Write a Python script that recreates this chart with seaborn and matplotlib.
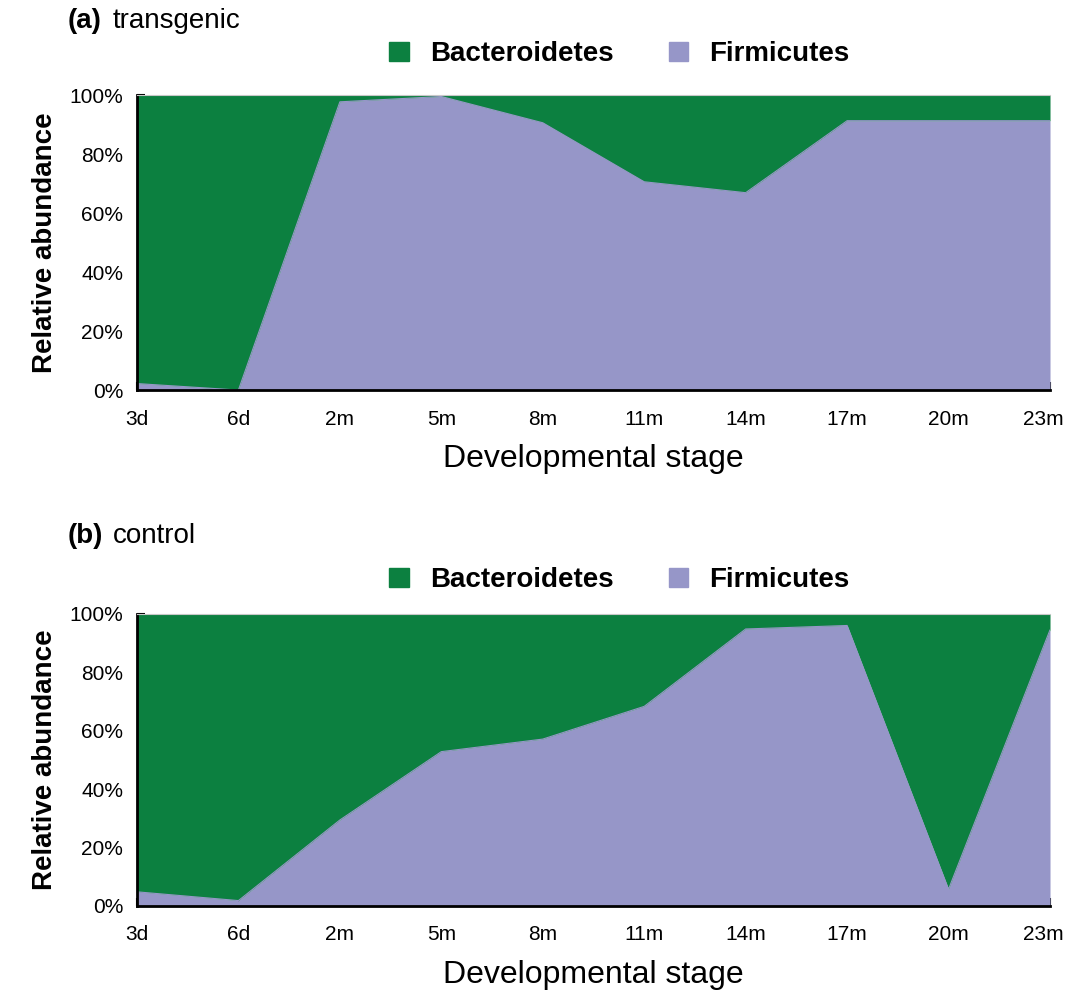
import matplotlib
matplotlib.use('Agg')
import matplotlib.pyplot as plt
import matplotlib.patches as mpatches
import matplotlib.transforms as mtransforms
import seaborn as sns
import pandas as pd

#data
stages = ['3d', '6d', '2m', '5m', '8m', '11m', '14m', '17m', '20m', '23m']
firm_transgenic = [2.2, 0.0, 97.7, 99.5, 90.6, 70.6, 66.9, 91.3, 91.3, 91.3]
firm_control = [4.8, 1.8, 29.4, 52.8, 57.1, 68.3, 94.8, 96.0, 5.7, 94.5]
panel_titles = ['transgenic', 'control']
panel_tags = ['(a)', '(b)']

green = '#0c8040'
lavender = '#9696c8'

sns.set_style('ticks')
plt.rcParams['font.family'] = ['Liberation Sans', 'DejaVu Sans']
plt.rcParams['text.color'] = 'black'
plt.rcParams['axes.labelcolor'] = 'black'

fig = plt.figure(figsize=(10.66, 9.9), dpi=100)
ax_top = fig.add_axes([0.1285, 0.606, 0.8565, 0.298])
ax_bot = fig.add_axes([0.1285, 0.085, 0.8565, 0.295])

for ax, firm, tag, title, ytitle, yleg in [
        (ax_top, firm_transgenic, panel_tags[0], panel_titles[0], 0.979, 0.945),
        (ax_bot, firm_control, panel_tags[1], panel_titles[1], 0.459, 0.414)]:
    df = pd.DataFrame({'stage': range(len(stages)), 'Firmicutes': firm})
    df['Bacteroidetes'] = 100 - df['Firmicutes']
    ax.stackplot(df['stage'], df['Firmicutes'], df['Bacteroidetes'],
                 colors=[lavender, green], linewidth=0)
    sns.lineplot(x='stage', y='Firmicutes', data=df, ax=ax, color=lavender, lw=0.8)
    ax.set_xlim(0, len(stages) - 1)
    ax.set_ylim(0, 100)
    ax.set_xticks(range(len(stages)))
    ax.set_xticklabels(stages)
    ax.set_yticks([0, 20, 40, 60, 80, 100])
    ax.set_yticklabels(['0%', '20%', '40%', '60%', '80%', '100%'])
    ax.tick_params(direction='in', length=6, width=1.5, colors='black')
    ax.tick_params(axis='y', labelsize=15, pad=10)
    ax.tick_params(axis='x', labelsize=15, pad=14)
    #last label sits a bit inside the edge in the original
    last = ax.get_xticklabels()[-1]
    last.set_transform(last.get_transform() + mtransforms.ScaledTranslation(-0.07, 0, fig.dpi_scale_trans))
    ax.spines['top'].set_color('#c8c8c8')
    ax.spines['top'].set_linewidth(0.8)
    ax.spines['right'].set_visible(False)
    for s in ['left', 'bottom']:
        ax.spines[s].set_linewidth(2)
        ax.spines[s].set_color('black')
    ax.set_xlabel('Developmental stage', fontsize=23, labelpad=11)
    ax.set_ylabel('Relative abundance', fontsize=20, fontweight='bold', labelpad=8)
    fig.text(0.063, ytitle, tag, fontsize=20, fontweight='bold', ha='left', va='center')
    fig.text(0.106, ytitle, title, fontsize=20, ha='left', va='center')
    handles = [mpatches.Patch(color=green, label='Bacteroidetes'),
               mpatches.Patch(color=lavender, label='Firmicutes')]
    leg = fig.legend(handles=handles, loc='center', bbox_to_anchor=(0.581, yleg), ncol=2,
                     frameon=False, prop={'size': 20, 'weight': 'bold'},
                     handlelength=0.7, handleheight=0.7, columnspacing=2.0, handletextpad=0.75)

fig.savefig('out.png', dpi=100)
